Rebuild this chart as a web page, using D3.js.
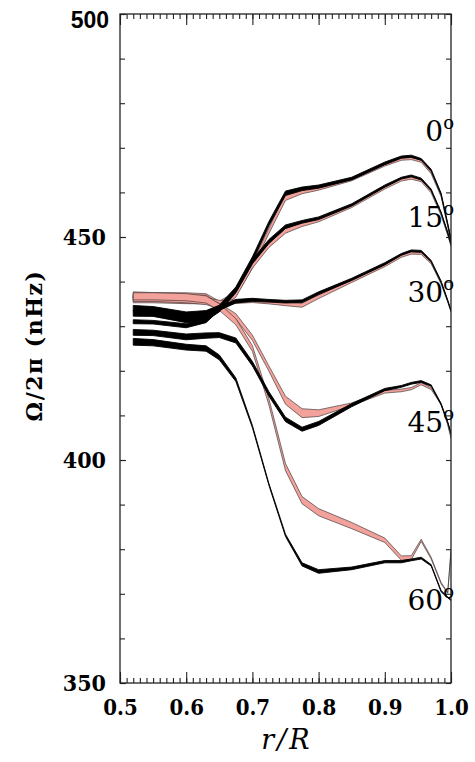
<!DOCTYPE html>
<html><head><meta charset="utf-8">
<script src="https://cdn.jsdelivr.net/npm/d3@7"></script>
<style>body{margin:0;background:#fff}</style>
</head><body>
<svg id="c" width="475" height="762"></svg>
<script>
// ---- data ----
const radius = [0.52,0.55,0.60,0.63,0.65,0.675,0.70,0.725,0.75,0.775,0.80,0.85,0.90,0.925,0.94,0.955,0.97,0.985,0.995,1.00];

const lat00Black  = [434.0,433.8,432.5,432.8,434.2,438.3,445.0,453.0,459.8,460.8,461.3,463.1,466.5,467.9,468.1,467.4,465.0,459.7,453.0,449.5];
const lat00BlackW = [1.3,1.2,1.4,1.4,1.0,1.0,1.1,1.0,1.0,0.8,0.7,0.6,0.6,0.5,0.5,0.4,0.4,0.3,0.2,0.2];
const lat00Pink   = [437.0,436.9,436.8,436.6,435.0,437.3,443.6,451.4,459.0,460.2,460.9,462.9,466.2,467.5,467.6,467.0,464.4,459.2,452.5,448.5];
const lat00PinkW  = [1.4,1.3,1.4,1.4,1.2,1.0,1.2,1.2,1.6,1.0,0.8,0.6,0.6,0.6,0.5,0.5,0.4,0.3,0.2,0.2];

const lat15Black  = [432.9,432.8,431.5,432.0,433.7,438.0,444.5,449.0,452.3,453.4,454.2,457.2,461.4,463.2,463.7,463.0,460.6,455.5,451.0,448.5];
const lat15BlackW = [1.3,1.2,1.4,1.4,1.0,1.0,1.0,0.9,0.8,0.6,0.6,0.5,0.5,0.4,0.4,0.4,0.3,0.2,0.2,0.2];
const lat15Pink   = [436.5,436.5,436.3,436.2,434.4,437.0,443.5,448.2,451.4,452.8,453.8,456.9,461.0,462.8,463.2,462.6,460.1,455.0,450.5,448.0];
const lat15PinkW  = [1.5,1.4,1.4,1.5,1.2,1.0,1.0,1.1,1.1,0.9,0.8,0.6,0.5,0.5,0.5,0.4,0.4,0.3,0.2,0.2];

const lat30Black  = [431.0,430.9,430.1,431.3,434.0,435.6,435.9,435.7,435.5,435.6,437.4,440.5,444.0,446.1,446.9,446.8,444.6,440.0,435.8,433.5];
const lat30BlackW = [0.9,0.8,0.9,1.0,0.9,0.8,0.7,0.6,0.6,0.6,0.6,0.5,0.5,0.4,0.4,0.4,0.3,0.3,0.2,0.2];
const lat30Pink   = [436.0,436.0,435.8,435.7,435.3,435.5,435.7,435.4,435.0,434.7,436.6,440.1,443.6,445.7,446.4,446.3,444.2,439.6,435.5,433.3];
const lat30PinkW  = [1.5,1.5,1.5,1.4,1.0,0.8,0.8,0.8,0.8,0.9,0.8,0.6,0.5,0.5,0.5,0.4,0.4,0.3,0.2,0.2];

const lat45Black  = [428.6,428.5,427.6,427.9,428.0,426.8,421.6,414.8,409.1,406.9,408.2,412.3,415.8,416.5,417.2,417.6,416.7,412.5,408.5,406.0];
const lat45BlackW = [1.3,1.2,1.3,1.2,1.1,1.1,1.0,1.0,1.0,0.9,0.9,0.7,0.5,0.4,0.4,0.4,0.3,0.3,0.2,0.2];
const lat45Pink   = [436.3,436.3,436.0,435.6,434.5,432.2,427.4,420.5,413.4,410.5,410.5,412.5,415.3,415.6,416.0,417.1,416.0,412.6,408.0,405.0];
const lat45PinkW  = [1.5,1.5,1.5,1.5,1.3,1.2,1.2,1.2,1.8,2.0,1.5,0.6,0.6,0.6,0.5,0.5,0.4,0.3,0.2,0.2];

const lat60Black  = [426.5,426.3,425.3,425.0,423.0,418.0,407.5,394.5,383.1,376.6,375.0,375.7,377.2,377.2,377.6,378.0,376.4,370.6,369.2,368.6];
const lat60BlackW = [1.5,1.4,1.3,1.2,1.1,0.8,0.5,0.4,0.5,0.7,0.8,0.6,0.5,0.5,0.4,0.4,0.3,0.3,0.2,0.2];
const lat60Pink   = [436.7,436.7,436.5,436.0,434.3,431.0,425.0,413.0,398.4,391.0,388.3,385.3,382.0,378.0,378.1,382.0,378.0,372.4,370.2,379.6];
const lat60PinkW  = [1.6,1.6,1.6,1.6,1.5,1.4,1.3,1.4,1.6,1.6,1.6,1.4,1.0,1.0,0.9,0.5,0.4,0.3,0.2,0.2];

const latitudes = ["0","15","30","45","60"];
const xTicks = [0.5,0.6,0.7,0.8,0.9,1.0];
const xTickLabels = ["0.5","0.6","0.7","0.8","0.9","1.0"];
const yTicks = [350,400,450,500];
const yTickLabels = ["350","400","450","500"];

// ---- layout ----
const L = 120, R = 451, T = 14, B = 683;
const svg = d3.select("#c");
const x = d3.scaleLinear().domain([0.5,1.0]).range([L,R]);
const y = d3.scaleLinear().domain([350,500]).range([B,T]);

svg.append("defs").append("clipPath").attr("id","clip")
  .append("rect").attr("x",L).attr("y",T).attr("width",R-L).attr("height",B-T);

const area = d3.area().x(d=>x(d.r)).y0(d=>y(d.lo)).y1(d=>y(d.hi));
function band(mid, w){ return radius.map((r,i)=>({r, lo:mid[i]-w[i]/2, hi:mid[i]+w[i]/2})); }

const pinkSets  = [[lat00Pink,lat00PinkW],[lat15Pink,lat15PinkW],[lat30Pink,lat30PinkW],[lat45Pink,lat45PinkW],[lat60Pink,lat60PinkW]];
const blackSets = [[lat00Black,lat00BlackW],[lat15Black,lat15BlackW],[lat30Black,lat30BlackW],[lat45Black,lat45BlackW],[lat60Black,lat60BlackW]];

const g = svg.append("g").attr("clip-path","url(#clip)");
pinkSets.forEach(([m,w])=>{
  g.append("path").attr("d",area(band(m,w)))
   .attr("fill","#f2a19b").attr("stroke","#2a2a2a").attr("stroke-width",0.6).attr("stroke-linejoin","round");
});
blackSets.forEach(([m,w])=>{
  g.append("path").attr("d",area(band(m,w)))
   .attr("fill","#000").attr("stroke","#000").attr("stroke-width",0.9).attr("stroke-linejoin","round");
});

// ---- axes ----
const serif = "'DejaVu Serif Condensed','DejaVu Serif',serif";
const xMinor = d3.range(50,101).map(v=>v/100);
const yMinor = d3.range(350,501,10);

function styleAxis(sel){ sel.select(".domain").remove(); sel.selectAll("line").attr("stroke","#222").attr("stroke-width",1.1); }
function noText(sel){ sel.selectAll("text").remove(); }

svg.append("g").attr("transform",`translate(0,${B})`)
  .call(d3.axisBottom(x).tickValues(xMinor).tickSize(-5)).call(styleAxis).call(noText);
svg.append("g").attr("transform",`translate(0,${B})`)
  .call(d3.axisBottom(x).tickValues(xTicks).tickSize(-11).tickFormat((d,i)=>xTickLabels[i]).tickPadding(16))
  .call(styleAxis)
  .selectAll("text").attr("font-family",serif).attr("font-weight","bold").attr("font-size",22).attr("fill","#000");
svg.append("g").attr("transform",`translate(0,${T})`)
  .call(d3.axisTop(x).tickValues(xMinor).tickSize(-5)).call(styleAxis).call(noText);
svg.append("g").attr("transform",`translate(0,${T})`)
  .call(d3.axisTop(x).tickValues(xTicks).tickSize(-11)).call(styleAxis).call(noText);

svg.append("g").attr("transform",`translate(${L},0)`)
  .call(d3.axisLeft(y).tickValues(yMinor).tickSize(-5)).call(styleAxis).call(noText);
const yl = svg.append("g").attr("transform",`translate(${L},0)`)
  .call(d3.axisLeft(y).tickValues(yTicks).tickSize(-6).tickFormat((d,i)=>yTickLabels[i]).tickPadding(14))
  .call(styleAxis);
yl.selectAll("text").attr("font-family",serif).attr("font-weight","bold").attr("font-size",23).attr("fill","#000");
yl.selectAll(".tick").filter(d=>d===500).select("text")
  .attr("font-family","'Liberation Sans',Arial,sans-serif").attr("font-size",23).attr("dy","0.6em").attr("x",-11);
svg.append("g").attr("transform",`translate(${R},0)`)
  .call(d3.axisRight(y).tickValues(yMinor).tickSize(-5)).call(styleAxis).call(noText);

svg.append("rect").attr("x",L).attr("y",T).attr("width",R-L).attr("height",B-T)
  .attr("fill","none").attr("stroke","#222").attr("stroke-width",1.3);

// ---- axis titles ----
svg.append("text").attr("transform",`translate(42,${(T+B)/2 - 3}) rotate(-90)`)
  .attr("text-anchor","middle").attr("font-family","'DejaVu Serif',serif").attr("font-weight","bold")
  .attr("font-size",22).attr("letter-spacing",1.5).text("Ω/2π (nHz)");
const xt = svg.append("text").attr("x",(L+R)/2).attr("y",749).attr("text-anchor","middle")
  .attr("font-family","'DejaVu Serif',serif").attr("font-style","italic").attr("font-size",27);
xt.append("tspan").text("r");
xt.append("tspan").attr("dx",3).text("/");
xt.append("tspan").attr("dx",3).text("R");

// ---- latitude labels ----
const labelAt = [471.5, 452.2, 435.4, 406.3, 366.4];
latitudes.forEach((lab,i)=>{
  const t = svg.append("text").attr("x",454).attr("y",y(labelAt[i])).attr("text-anchor","end")
    .attr("font-family","'DejaVu Serif',serif").attr("font-size",28).attr("fill","#000");
  t.append("tspan").text(lab);
  t.append("tspan").attr("dy",-12).attr("font-size",18).text("o");
});
</script>
</body></html>
